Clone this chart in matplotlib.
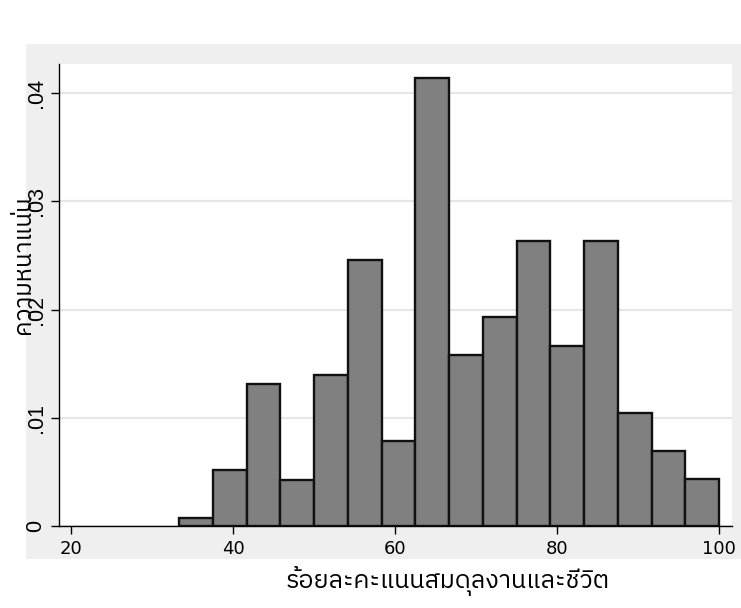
"""Histogram of work-life balance score percentages (Stata-style)."""

import matplotlib

matplotlib.use("Agg")
import matplotlib.pyplot as plt
from matplotlib.patches import Rectangle

THAI_FONT = ["IBM Plex Sans Thai", "DejaVu Sans"]

# bins: 16 equal-width bins from 33.33 to 100
bin_start = 100 / 3
bin_width = 25 / 6
density = [0.00074, 0.00517, 0.01315, 0.00428, 0.01398, 0.0246, 0.00781, 0.04141,
           0.01576, 0.01934, 0.02636, 0.01666, 0.02636, 0.01047, 0.00693, 0.0043]
bin_left = [bin_start + i * bin_width for i in range(len(density))]

x_ticks = [20, 40, 60, 80, 100]
y_ticks = [0, 0.01, 0.02, 0.03, 0.04]
y_tick_labels = ["0", ".01", ".02", ".03", ".04"]

x_label = "ร้อยละคะแนนสมดุลงานและชีวิต"
y_label = "ความหนาแน่น"


def main() -> None:
    fig = plt.figure(figsize=(7.41, 6.08), dpi=100)

    # light gray graph region behind the plot area
    fig.patches.append(Rectangle((26 / 741, 49 / 608), 715 / 741, 515 / 608,
                                 transform=fig.transFigure, facecolor="#efefef",
                                 edgecolor="none", zorder=-10))

    ax = fig.add_axes([59 / 741, 82 / 608, 673 / 741, 462 / 608])
    ax.set_zorder(1)
    ax.set_facecolor("white")

    ax.bar(bin_left, density, width=bin_width, align="edge", color="#808080",
           edgecolor="#111111", linewidth=1.7, zorder=3)

    ax.set_xlim(18.52, 101.6)
    ax.set_ylim(0, 0.04268)

    ax.set_xticks(x_ticks)
    ax.set_xticklabels([str(t) for t in x_ticks], fontsize=13, family="DejaVu Sans")
    ax.set_yticks(y_ticks)
    ax.set_yticklabels(y_tick_labels, fontsize=15.5, family="Liberation Sans",
                       rotation=90, va="center")

    ax.tick_params(axis="both", direction="out", length=6, width=1, color="black")
    ax.tick_params(axis="x", pad=4)
    ax.tick_params(axis="y", pad=3)

    ax.grid(axis="y", color="#e6e6e6", linewidth=1.5, zorder=0)
    ax.set_axisbelow(True)

    for side in ("top", "right"):
        ax.spines[side].set_visible(False)
    for side in ("left", "bottom"):
        ax.spines[side].set_color("black")
        ax.spines[side].set_linewidth(1.0)

    fig.text(448 / 741, 1 - 581 / 608, x_label, ha="center", va="center",
             fontsize=18, family=THAI_FONT, zorder=5)
    fig.text(24 / 741, 1 - 265 / 608, y_label, ha="center", va="center",
             rotation=90, fontsize=17.5, family=THAI_FONT, zorder=5)

    fig.savefig("out.png", dpi=100, facecolor="white")
    plt.close(fig)


if __name__ == "__main__":
    main()
